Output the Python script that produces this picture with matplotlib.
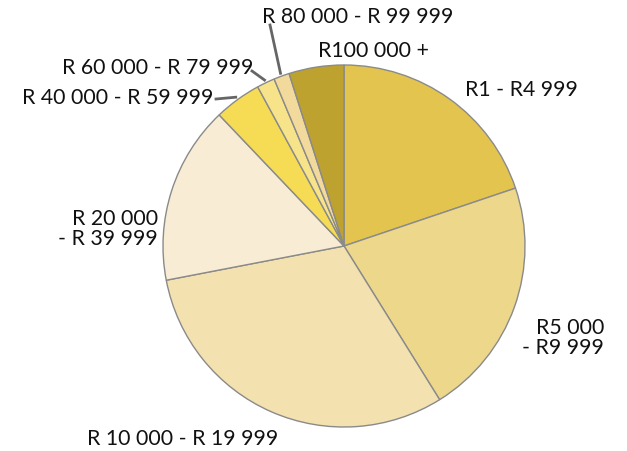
import numpy as np
import matplotlib.pyplot as plt

plt.rcParams['font.family'] = ['Lato', 'DejaVu Sans']

# income bands and their share (%)
bands = ['R1 - R4 999', 'R5 000\n- R9 999', 'R 10 000 - R 19 999',
         'R 20 000\n- R 39 999', 'R 40 000 - R 59 999', 'R 60 000 - R 79 999',
         'R 80 000 - R 99 999', 'R100 000 +']
shares = [19.8, 21.3, 30.8, 15.9, 4.2, 1.6, 1.4, 4.9]
colors = ['#E2C44F', '#EDD78B', '#F3E2AF', '#F8EDD4', '#F6DC55', '#F7E48A',
          '#F2DA9C', '#BDA230']

W, H = 627, 452
fig = plt.figure(figsize=(W / 100, H / 100), dpi=100)
ax = fig.add_axes([0, 0, 1, 1])
ax.set_aspect('equal')
ax.axis('off')

cx, cy, r = 344, H - 247, 181
wedges, _ = ax.pie(shares, colors=colors, startangle=90, counterclock=False,
                   center=(cx, cy), radius=r,
                   wedgeprops=dict(edgecolor='#8a8a8a', linewidth=1.0))
ax.set_xlim(0, W)
ax.set_ylim(0, H)

# label layout: (x, y in pixels from top, ha)
layout = [
    (465, 90, 'left'),
    (604, 338, 'right'),
    (87, 439, 'left'),
    (158, 229, 'right'),
    (22, 98, 'left'),
    (62, 68, 'left'),
    (262, 17, 'left'),
    (318, 51, 'left'),
]
for lab, (x, y, ha) in zip(bands, layout):
    ax.text(x, H - y, lab, ha=ha, va='center', fontsize=15.3, color='#111111',
            linespacing=0.95)

# leader lines for the small slices
leaders = {4: (216, 100), 5: (252, 72), 6: (270, 26)}
for i, (lx, ly) in leaders.items():
    w = wedges[i]
    ang = np.deg2rad((w.theta1 + w.theta2) / 2)
    ex, ey = cx + (r + 3) * np.cos(ang), cy + (r + 3) * np.sin(ang)
    ax.plot([lx, ex], [H - ly, ey], color='#666666', lw=2)

fig.savefig('out.png', dpi=100)
